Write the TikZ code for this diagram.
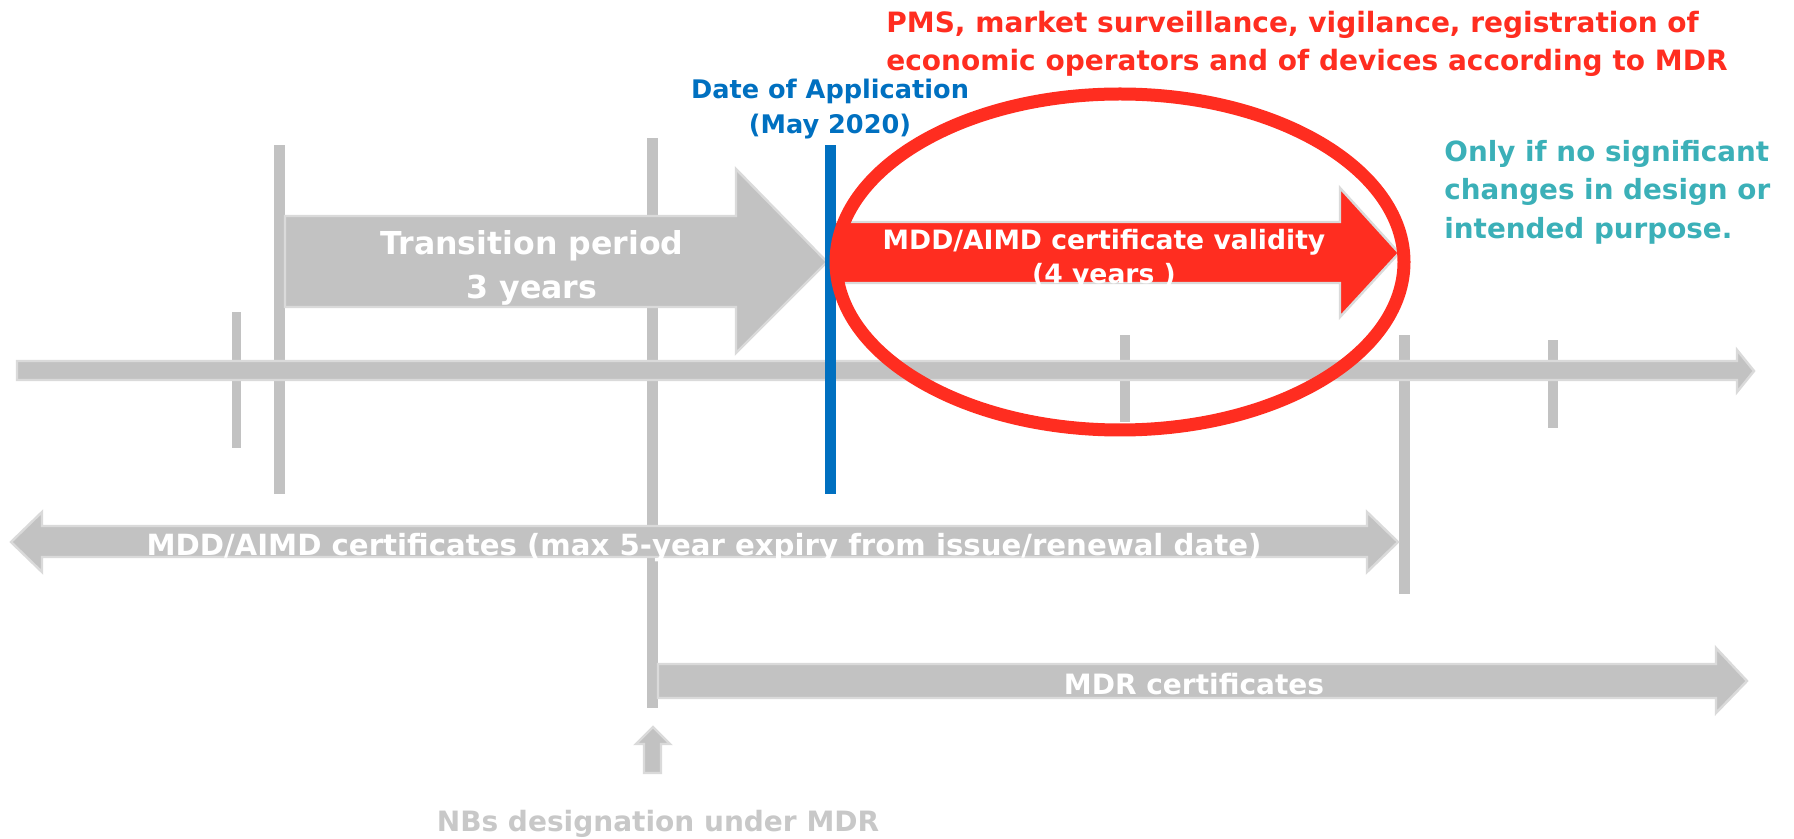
\documentclass[tikz,border=0pt]{standalone}
\usepackage{fontspec}
\setmainfont{DejaVu Sans}

\definecolor{tl_gray}{RGB}{194, 194, 194}
\definecolor{tl_edge}{RGB}{218, 218, 218}
\definecolor{doa_blue}{RGB}{0, 112, 192}
\definecolor{mdr_red}{RGB}{255, 45, 32}
\definecolor{note_teal}{RGB}{59, 176, 184}
\definecolor{nb_gray}{RGB}{200, 200, 200}

\tikzset{
    band/.style={fill=tl_gray, draw=tl_edge, line width=1.2},
    tickbar/.style={fill=tl_gray},
    lbl/.style={inner sep=0pt, align=center, font=\bfseries\fontsize{14}{19}\selectfont},
}

\begin{document}
\begin{tikzpicture}[x=0.5pt, y=-0.5pt]
    \def\W{1794}
    \def\H{839}
    \fill[white] (0, 0) rectangle (\W, \H);
    \useasboundingbox (0, 0) rectangle (\W, \H);

    % vertical ticks on the time line
    \foreach \xa/\xb/\ya/\yb in {232/241/312/448, 274/285/145/494, 647/658/138/708,
        1120/1130/335/422, 1399/1410/335/594, 1548/1558/340/428}
        \fill[tickbar] (\xa, \ya) rectangle (\xb, \yb);

    % time line
    \fill[band] (17, 361) -- (1737, 361) -- (1737, 350) -- (1754, 371)
        -- (1737, 392) -- (1737, 380) -- (17, 380) -- cycle;

    % transition period
    \fill[band] (285, 216) -- (736, 216) -- (736, 169) -- (827, 262)
        -- (736, 353) -- (736, 307) -- (285, 307) -- cycle;
    \node[lbl, white, font=\bfseries\fontsize{15.8}{22}\selectfont] (trans) at (532, 268)
        {Transition period\\3 years};

    % old certificates, both ways
    \fill[band] (11, 542) -- (42, 512) -- (42, 526) -- (1367, 526) -- (1367, 512)
        -- (1398, 542) -- (1367, 572) -- (1367, 557) -- (42, 557) -- (42, 572) -- cycle;
    \node[lbl, white, font=\bfseries\fontsize{14.6}{19}\selectfont] (mddcert) at (704, 548)
        {MDD/AIMD certificates (max 5-year expiry from issue/renewal date)};

    % new certificates
    \fill[band] (658, 664) -- (1716, 664) -- (1716, 648) -- (1747, 681)
        -- (1716, 713) -- (1716, 698) -- (658, 698) -- cycle;
    \node[lbl, white] (mdrcert) at (1194, 684) {MDR certificates};

    % designation
    \fill[band] (644, 773) -- (644, 744) -- (636, 744) -- (653, 727)
        -- (670, 744) -- (661, 744) -- (661, 773) -- cycle;
    \node[lbl, nb_gray] (nbs) at (658, 824) {NBs designation under MDR};

    % validity arrow
    \fill[mdr_red, draw=tl_edge, line width=1.2] (829, 222) -- (1340, 222) -- (1340, 188)
        -- (1399, 253) -- (1340, 317) -- (1340, 283) -- (829, 283) -- cycle;
    \node[lbl, white, font=\bfseries\fontsize{13.3}{17}\selectfont] (validity) at (1104, 259)
        {MDD/AIMD certificate validity\\(4 years )};

    % date of application
    \fill[doa_blue] (825, 145) rectangle (836, 494);
    \node[lbl, doa_blue, font=\bfseries\fontsize{12.8}{17.5}\selectfont] (doa) at (830, 109)
        {Date of Application\\(May 2020)};

    % red ring
    \draw[mdr_red, line width=6.5pt] (1120, 262) ellipse (284 and 168);

    \node[lbl, mdr_red, align=left, anchor=west] (pms) at (886, 44)
        {PMS, market surveillance, vigilance, registration of\\economic operators and of devices according to MDR};
    \node[lbl, note_teal, align=left, anchor=west, font=\bfseries\fontsize{13.9}{19.2}\selectfont] (note) at (1444, 192)
        {Only if no significant\\changes in design or\\intended purpose.};
\end{tikzpicture}
\end{document}
